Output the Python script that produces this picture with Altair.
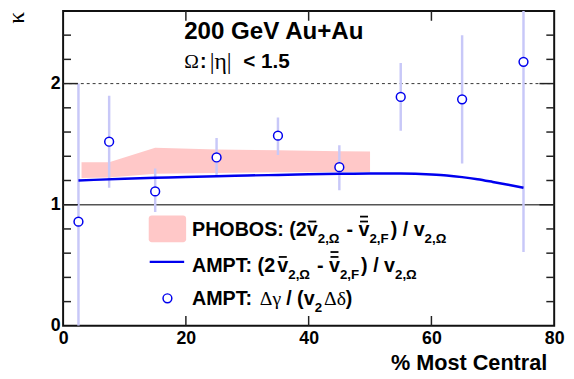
import altair as alt
import pandas as pd

# ---------------- data ----------------
centrality = [2.5, 7.5, 15, 25, 35, 45, 55, 65, 75]
kappa_ampt = [0.86, 1.52, 1.11, 1.39, 1.57, 1.31, 1.89, 1.87, 2.18]
kappa_lo = [0.0, 1.14, 0.94, 1.24, 1.41, 1.12, 1.61, 1.34, 0.61]
kappa_hi = [2.0, 1.90, 1.30, 1.55, 1.72, 1.49, 2.17, 2.40, 2.75]

ampt_x = [2.5, 5, 10, 15, 20, 25, 30, 35, 40, 45, 50, 55, 60, 62.5, 65, 67.5, 70, 72.5, 75]
ampt_y = [1.200, 1.205, 1.214, 1.222, 1.229, 1.235, 1.241, 1.246, 1.251, 1.255, 1.257,
          1.257, 1.250, 1.242, 1.228, 1.210, 1.188, 1.165, 1.140]

phobos_x = [3, 7.5, 15, 25, 35, 45, 50]
phobos_lo = [1.220, 1.225, 1.255, 1.262, 1.268, 1.270, 1.270]
phobos_hi = [1.350, 1.350, 1.470, 1.455, 1.450, 1.442, 1.440]

x_tick_values = [0, 20, 40, 60, 80]
x_inner_ticks = [20, 40, 60]
y_tick_values = [0, 1, 2]
y_major_inner = [1, 2]
y_minor_inner = [0.2, 0.4, 0.6, 0.8, 1.2, 1.4, 1.6, 1.8, 2.2, 2.4]

title_main = "200 GeV Au+Au"
x_title = "% Most Central"
y_title = "κ"

# ---------------- styling ----------------
W, H = 499, 320
BLUE = "#0000ee"
ERR = "#c8c8f8"
PINK = "#ffc8c8"
SANS = "Liberation Sans"
SERIF = "Liberation Serif"

xs = alt.Scale(domain=[0, 80], nice=False, zero=False)
ys = alt.Scale(domain=[0, 2.6], nice=False, zero=False)

one = pd.DataFrame({"k": [0]})

pts = pd.DataFrame({"c": centrality, "k": kappa_ampt, "lo": kappa_lo, "hi": kappa_hi})
ampt = pd.DataFrame({"c": ampt_x, "k": ampt_y})
phobos = pd.DataFrame({"c": phobos_x, "lo": phobos_lo, "hi": phobos_hi})

layers = []

# axes carrier + y=1 solid line
ref1 = alt.Chart(pd.DataFrame({"y": [1]})).mark_rule(color="#555555", strokeWidth=1.5).encode(
    y=alt.Y("y:Q", scale=ys, title=None,
            axis=alt.Axis(values=y_tick_values, labelPadding=3, labelFlush=False, format="d")),
    x=alt.value(0), x2=alt.value(W))
layers.append(ref1)

xaxis = alt.Chart(pd.DataFrame({"x": [0, 80]})).mark_point(opacity=0).encode(
    x=alt.X("x:Q", scale=xs, title=None,
            axis=alt.Axis(values=x_tick_values, labelPadding=4, labelFlush=False, format="d")),
    y=alt.value(0))
layers.append(xaxis)

ref2 = alt.Chart(pd.DataFrame({"y": [2]})).mark_rule(color="#333333", strokeWidth=1,
                                                      strokeDash=[3, 3]).encode(
    y=alt.Y("y:Q", scale=ys), x=alt.value(0), x2=alt.value(W))
layers.append(ref2)

band = alt.Chart(phobos).mark_area(color=PINK, opacity=1).encode(
    x=alt.X("c:Q", scale=xs), y=alt.Y("lo:Q", scale=ys), y2="hi:Q")
layers.append(band)

bars = alt.Chart(pts).mark_rule(color=ERR, strokeWidth=2.5, clip=True).encode(
    x=alt.X("c:Q", scale=xs), y=alt.Y("lo:Q", scale=ys), y2="hi:Q")
layers.append(bars)

line = alt.Chart(ampt).mark_line(color=BLUE, strokeWidth=2.5, interpolate="monotone").encode(
    x=alt.X("c:Q", scale=xs), y=alt.Y("k:Q", scale=ys))
layers.append(line)

circ = alt.Chart(pts).mark_point(shape="circle", filled=True, fill="white", stroke=BLUE,
                                 strokeWidth=1.5, size=80, opacity=1).encode(
    x=alt.X("c:Q", scale=xs), y=alt.Y("k:Q", scale=ys))
layers.append(circ)


# inward tick marks
def yticks(vals, length):
    d = pd.DataFrame({"y": vals})
    left = alt.Chart(d).mark_rule(color="#222222", strokeWidth=1.5).encode(
        y=alt.Y("y:Q", scale=ys), x=alt.value(0), x2=alt.value(length))
    right = alt.Chart(d).mark_rule(color="#222222", strokeWidth=1.5).encode(
        y=alt.Y("y:Q", scale=ys), x=alt.value(W - length), x2=alt.value(W))
    return [left, right]


layers += yticks(y_major_inner, 15)
layers += yticks(y_minor_inner, 8)

dx = pd.DataFrame({"x": x_inner_ticks})
layers.append(alt.Chart(dx).mark_rule(color="#222222", strokeWidth=1.5).encode(
    x=alt.X("x:Q", scale=xs), y=alt.value(H - 10), y2=alt.value(H)))
layers.append(alt.Chart(dx).mark_rule(color="#222222", strokeWidth=1.5).encode(
    x=alt.X("x:Q", scale=xs), y=alt.value(0), y2=alt.value(10)))

# ---------------- text helpers ----------------
BW = {' ': 278, '(': 333, ')': 333, '/': 278, '-': 333, ':': 333, ',': 278,
      '<': 584, '.': 278, '+': 584, 'A': 722, 'B': 722, 'C': 722, 'F': 611, 'G': 778,
      'H': 722, 'M': 833, 'O': 778, 'P': 667, 'S': 667, 'T': 611, 'V': 667, 'e': 556,
      'u': 611, 'v': 556, 'Ω': 768}
SW = {'Ω': 768, 'Δ': 612, 'γ': 450, 'δ': 494, 'η': 500, '|': 200, ' ': 250}


def width(s, size, kind):
    tab = BW if kind == "B" else SW
    return sum(tab.get(c, 556) for c in s) / 1000 * size


def text_layer(s, x, y, size, kind, **kw):
    # leading spaces are trimmed by the renderer, so shift instead
    lead = s[:len(s) - len(s.lstrip())]
    x = x + width(lead, size, kind)
    return alt.Chart(one).mark_text(
        text=s.strip(), font=SANS if kind == "B" else SERIF,
        fontWeight="bold" if kind == "B" else "normal",
        fontSize=size, align=kw.get("align", "left"), baseline=kw.get("baseline", "alphabetic"),
        angle=kw.get("angle", 0), color="black").encode(x=alt.value(x), y=alt.value(y))


def bar_layer(x1, x2, y):
    return alt.Chart(one).mark_rule(color="black", strokeWidth=1.8).encode(
        x=alt.value(x1), x2=alt.value(x2), y=alt.value(y))


def chain(segs, x0, base):
    out = []
    x = x0
    for s, kind, size, sub, nbar in segs:
        y = base + (7 if sub else 0)
        out.append(text_layer(s, x, y, size, kind))
        w = width(s, size, kind)
        if nbar >= 1:
            out.append(bar_layer(x + 1.5, x + w - 1.5, base - 15))
        if nbar >= 2:
            out.append(bar_layer(x + 1.5, x + w - 1.5, base - 20))
        x += w + (2 if sub else 0)
    return out


# titles
layers.append(text_layer(title_main, 123, 29, 24.5, "B"))
layers.append(text_layer("Ω", 123, 58, 20, "S"))
layers.append(text_layer(":", 139, 58, 20, "B"))
layers.append(text_layer("|η|", 149, 59, 24, "S"))
layers.append(text_layer("< 1.5", 183, 58, 21, "B"))

# axis titles
layers.append(text_layer(x_title, 492, 365, 22, "B", align="right"))
layers.append(text_layer(y_title, -47, 7, 24, "S", align="center", baseline="middle",
                         angle=270))

# legend
LX = 131
MS, SS = 20, 13.5
phobos_segs = [("PHOBOS: (2", "B", MS, False, 0), ("v", "B", MS, False, 1),
               ("2,Ω", "B", SS, True, 0), (" - ", "B", MS, False, 0),
               ("v", "B", MS, False, 2), ("2,F", "B", SS, True, 0),
               (") / ", "B", MS, False, 0), ("v", "B", MS, False, 0),
               ("2,Ω", "B", SS, True, 0)]
ampt_segs = [("AMPT: (2", "B", MS, False, 0)] + phobos_segs[1:]
dg_segs = [("AMPT: ", "B", MS, False, 0), ("Δγ", "S", MS, False, 0),
           (" / (v", "B", MS, False, 0), ("2", "B", SS, True, 0),
           ("Δδ", "S", MS, False, 0), (")", "B", MS, False, 0)]

layers += chain(phobos_segs, LX, 229)
layers += chain(ampt_segs, LX, 265)
layers += chain(dg_segs, LX, 299)

layers.append(alt.Chart(one).mark_rect(color=PINK, cornerRadius=3).encode(
    x=alt.value(87), x2=alt.value(125), y=alt.value(208), y2=alt.value(235)))
layers.append(alt.Chart(one).mark_rule(color=BLUE, strokeWidth=2.5).encode(
    x=alt.value(88), x2=alt.value(123), y=alt.value(255)))
layers.append(alt.Chart(one).mark_point(shape="circle", filled=True, fill="white", stroke=BLUE,
                                        strokeWidth=1.5, size=80, opacity=1).encode(
    x=alt.value(106), y=alt.value(292)))

chart = alt.layer(*layers).properties(
    width=W, height=H, autosize="none",
    padding={"left": 56, "top": 0, "right": 12, "bottom": 48},
).configure_view(stroke="#111111", strokeWidth=2).configure_axis(
    ticks=False, domain=False, grid=False, labelFont=SANS, labelFontWeight="bold",
    labelFontSize=18, labelColor="black")

chart.save("out.html", embed_options={"renderer": "svg", "actions": False})
